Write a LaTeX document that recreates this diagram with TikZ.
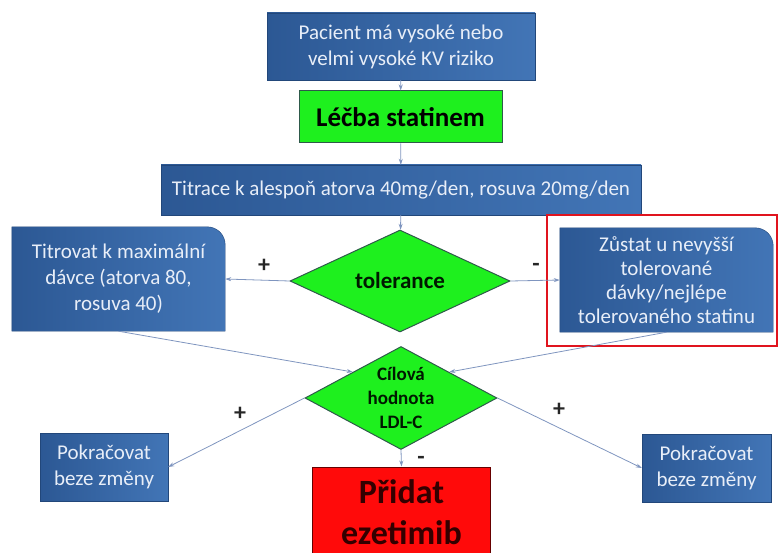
\documentclass[tikz,border=0pt]{standalone}
\usepackage{fontspec}
\setmainfont{Carlito}
\usepackage{tikz}
\usetikzlibrary{shapes.geometric,arrows.meta,backgrounds}
\definecolor{boxL}{HTML}{2C5894}
\definecolor{boxR}{HTML}{4275B6}
\definecolor{boxEdge}{HTML}{22477A}
\definecolor{boxText}{HTML}{E8EEF8}
\definecolor{okGreen}{HTML}{1EF01E}
\definecolor{greenEdge}{HTML}{2E5A4A}
\definecolor{addRed}{HTML}{FF0A0A}
\definecolor{lineBlue}{HTML}{7F95BF}
\definecolor{frameRed}{HTML}{E0141E}

\begin{document}
\begin{tikzpicture}[
    x=1pt, y=-1pt,
    box/.style={rectangle, draw=boxEdge, left color=boxL, right color=boxR, text=boxText, align=center, inner sep=2pt, font=\fontsize{21}{26}\selectfont},
    tabbox/.style={rectangle, draw=none, text=boxText, align=center, inner sep=2pt, font=\fontsize{21}{26}\selectfont},
    greenbox/.style={rectangle, draw=greenEdge, fill=okGreen, line width=1pt, font=\bfseries\fontsize{27}{32}\selectfont},
    decision/.style={diamond, draw=greenEdge, fill=okGreen, line width=1pt, inner sep=-8pt, align=center, text=black!90!green},
    redbox/.style={rectangle, draw=black!60!red, fill=addRed, line width=1pt, align=center, text=black!80!red, font=\bfseries\fontsize{34}{41}\selectfont},
    arrow/.style={-{Stealth[length=6pt,width=4pt]}, line width=0.8pt, draw=lineBlue},
    sign/.style={font=\bfseries\fontsize{24}{24}\selectfont, text=black!85}
]
\useasboundingbox (0,0) rectangle (779,553);

\node[box, minimum width=268pt, minimum height=67pt] (risk) at (401,46.5) {Pacient má vysoké nebo\\velmi vysoké KV riziko};
\node[greenbox, minimum width=203pt, minimum height=52pt] (statin) at (400.5,117) {Léčba statinem};
\node[box, minimum width=480pt, minimum height=50pt] (titrace) at (401,190) {Titrace k alespoň atorva 40mg/den, rosuva 20mg/den};
\node[decision, minimum width=220pt, minimum height=102pt, font=\bfseries\fontsize{23}{27}\selectfont] (tol) at (400,281) {tolerance};

\node[tabbox, minimum width=213pt, minimum height=104pt] (maxdose) at (118.5,279) {Titrovat k maximální\\dávce (atorva 80,\\rosuva 40)};
\node[tabbox, minimum width=213pt, minimum height=104pt, font=\fontsize{21}{24}\selectfont] (keep) at (666.5,280) {Zůstat u nevyšší\\tolerované\\dávky/nejlépe\\tolerovaného statinu};
\draw[frameRed, line width=1.8pt] (547,215) rectangle (777,346);

\node[decision, minimum width=192pt, minimum height=103pt, shape aspect=1.86, font=\bfseries\fontsize{19}{24}\selectfont] (ldl) at (401,398) {Cílová\\hodnota\\LDL-C};

\node[box, minimum width=128pt, minimum height=68pt] (goleft) at (104,467) {Pokračovat\\beze změny};
\node[box, minimum width=129pt, minimum height=68pt] (goright) at (706.5,468) {Pokračovat\\beze změny};
\node[redbox, minimum width=178pt, minimum height=90pt] (ezet) at (401.5,512) {Přidat\\ezetimib};

% boxes with one rounded corner
\begin{scope}[on background layer]
\foreach \b in {maxdose,keep}
  \path[draw=boxEdge, left color=boxL, right color=boxR] (\b.south west) -- (\b.north west) -- ([xshift=-18pt]\b.north east) arc[start angle=90, end angle=0, radius=18pt] -- (\b.south east) -- cycle;
\end{scope}

\draw[arrow] (risk) -- (statin);
\draw[arrow] (statin) -- (titrace);
\draw[arrow] (titrace) -- (tol);
\draw[arrow] (tol.west) -- (maxdose.east);
\draw[arrow] (tol.east) -- (keep.west);
\draw[arrow] (maxdose.south) -- (ldl.north west);
\draw[arrow] (keep.south) -- (ldl.north east);
\draw[arrow] (ldl.west) -- (goleft.east);
\draw[arrow] (ldl.east) -- (goright.west);
\draw[arrow] (ldl.south) -- (ezet.north);

\node[sign] (tolplus) at (264,266) {+};
\node[sign] (tolminus) at (536,267) {-};
\node[sign] (ldlplus) at (240,414) {+};
\node[sign] (ldlplus2) at (559,410) {+};
\node[sign] (ldlminus) at (421,460) {-};

\end{tikzpicture}
\end{document}
